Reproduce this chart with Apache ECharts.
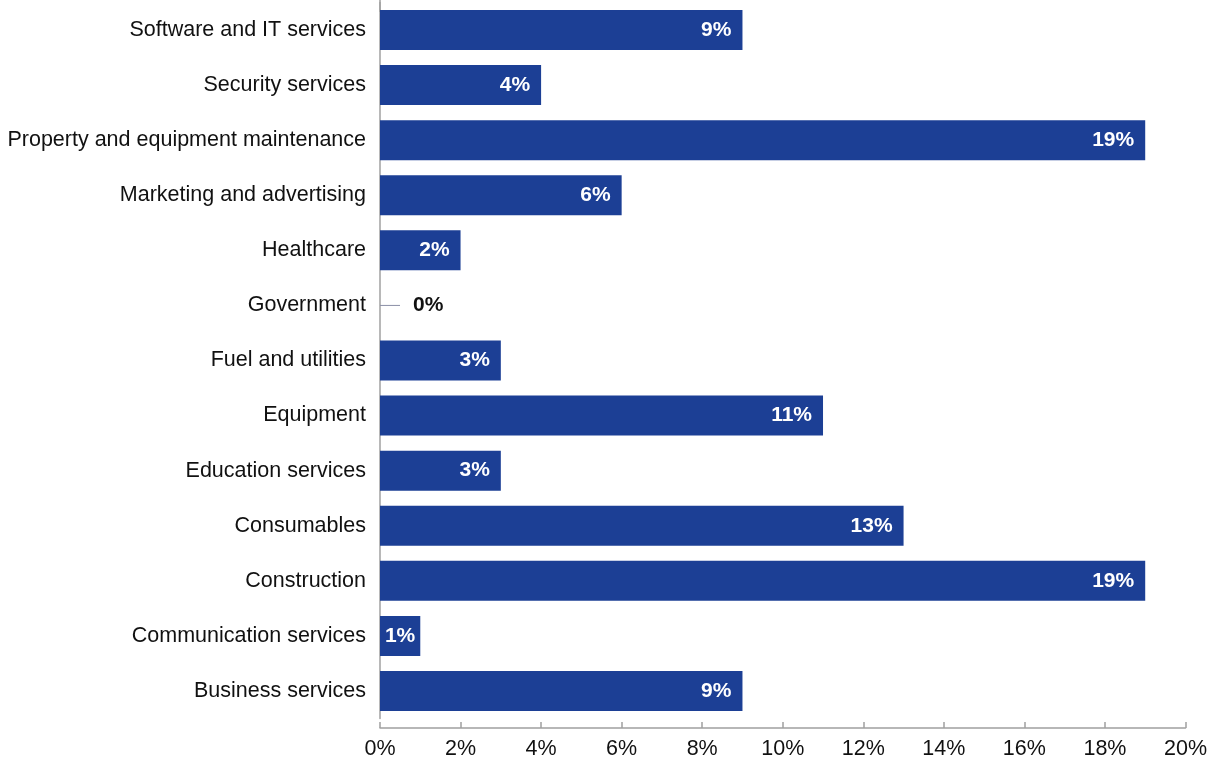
<!DOCTYPE html>
<html>
<head>
<meta charset="utf-8">
<script src="https://cdn.jsdelivr.net/npm/echarts@6/dist/echarts.min.js"></script>
<style>html,body{margin:0;padding:0;background:#fff}#c{width:1210px;height:763px}</style>
</head>
<body>
<div id="c"></div>
<script>
const categories = [
  'Software and IT services',
  'Security services',
  'Property and equipment maintenance',
  'Marketing and advertising',
  'Healthcare',
  'Government',
  'Fuel and utilities',
  'Equipment',
  'Education services',
  'Consumables',
  'Construction',
  'Communication services',
  'Business services'
];
const values = [9, 4, 19, 6, 2, 0, 3, 11, 3, 13, 19, 1, 9];
const xTicks = [0, 2, 4, 6, 8, 10, 12, 14, 16, 18, 20];

const FONT = '"Liberation Sans", Arial, sans-serif';
const BLUE = '#1c3f95';
const AXIS = '#a0a0a0';

const seriesData = values.map(v => {
  if (v === 0) {
    return {
      value: v,
      label: {
        position: 'right',
        distance: 0,
        formatter: p => '{ln|}{z|' + p.value + '%}',
        rich: {
          ln: { width: 20, height: 1, backgroundColor: '#8a8fa6' },
          z: { color: '#111', fontWeight: 'bold', fontSize: 21, fontFamily: FONT, padding: [0, 0, 0, 13] }
        }
      }
    };
  }
  if (v <= 1) {
    return { value: v, label: { distance: 5 } };
  }
  return v;
});

const chart = echarts.init(document.getElementById('c'), null, { renderer: 'canvas' });
chart.setOption({
  animation: false,
  backgroundColor: '#fff',
  grid: { left: 380, right: 20, top: 2.5, bottom: 44.5, containLabel: false },
  xAxis: {
    type: 'value',
    min: xTicks[0],
    max: xTicks[xTicks.length - 1],
    interval: 2,
    offset: 9.5,
    axisLine: { show: true, lineStyle: { color: AXIS, width: 1.5 } },
    axisTick: { show: true, inside: true, length: 6, lineStyle: { color: AXIS, width: 1.5 } },
    splitLine: { show: false },
    axisLabel: { formatter: '{value}%', color: '#111', fontSize: 21.5, fontFamily: FONT, margin: 10 }
  },
  yAxis: {
    type: 'category',
    data: categories,
    inverse: true,
    axisLine: {
      show: true,
      lineStyle: { color: AXIS, width: 1.5 },
      symbol: ['none', 'rect'],
      symbolSize: [1.5, 19]
    },
    axisTick: { show: false },
    axisLabel: { color: '#111', fontSize: 21.5, fontFamily: FONT, margin: 14, padding: [0, 0, 4, 0] }
  },
  series: [{
    type: 'bar',
    data: seriesData,
    barWidth: 40,
    itemStyle: { color: BLUE },
    label: {
      show: true,
      position: 'insideRight',
      distance: 11,
      formatter: '{c}%',
      color: '#fff',
      fontWeight: 'bold',
      fontSize: 21,
      fontFamily: FONT
    }
  }]
});
</script>
</body>
</html>
